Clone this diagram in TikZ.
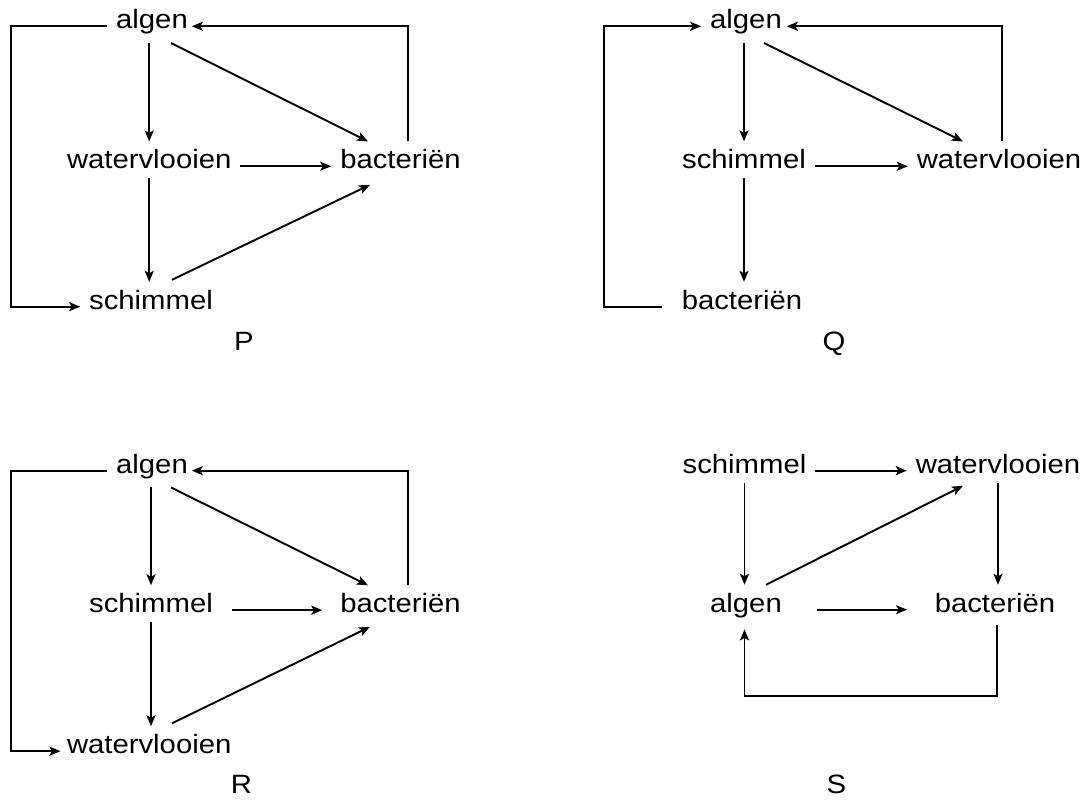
\documentclass[tikz,border=0pt]{standalone}
\usepackage{fontspec}
\setmainfont{Liberation Sans}[FakeStretch=1.105]
\usetikzlibrary{arrows.meta}
\newcommand\lblfont{\fontsize{26.5pt}{31pt}\selectfont}
\tikzset{
  lbl/.style={font=\lblfont, inner sep=0pt, text height=19pt, text depth=1pt,
    outer xsep=9pt, outer ysep=8.5pt, anchor=base},
  desc/.style={text depth=5.6pt},
  ttl/.style={font=\lblfont, inner sep=0pt, anchor=base},
  arr/.style={line width=1.9pt, -{Stealth[length=11pt,width=9pt,inset=2.5pt]}},
  ln/.style={line width=1.9pt}
}
\begin{document}
\begin{tikzpicture}[x=1pt,y=-1pt]
\useasboundingbox (0,0) rectangle (1089,801);
% ---------- P ----------
\node[lbl,desc] (Pa) at (152,28.9) {algen};
\node[lbl] (Pw) at (149.2,168.9) {watervlooien};
\node[lbl] (Pb) at (400.5,168.9) {bacteriën};
\node[lbl] (Ps) at (151,309.3) {schimmel};
\node[ttl] (P) at (244,350) {P};
\draw[arr] (Pw.north |- Pa.south) -- (Pw.north);
\draw[arr] ([xshift=19pt]Pa.south) -- ([xshift=-32.5pt]Pb.north);
\draw[arr] (Pw.mid east) -- (Pb.mid west);
\draw[arr] (Pw.south) -- (Pw.south |- Ps.north);
\draw[arr] ([xshift=21pt,yshift=2pt]Ps.north) -- ([xshift=-30.5pt,yshift=-6.4pt]Pb.south);
\draw[arr] ([xshift=7.5pt]Pb.north) |- ([xshift=-5pt]Pa.mid east);
\draw[arr] (Pa.mid west) -| ([xshift=-69.1pt]Ps.mid west) -- (Ps.mid west);
% ---------- Q ----------
\node[lbl,desc] (Qa) at (746,28.9) {algen};
\node[lbl] (Qs) at (744,168.9) {schimmel};
\node[lbl] (Qw) at (999,168.9) {watervlooien};
\node[lbl] (Qb) at (742,309.3) {bacteriën};
\node[ttl] (Q) at (834,350) {Q};
\draw[arr] (Qs.north |- Qa.south) -- (Qs.north);
\draw[arr] ([xshift=18pt]Qa.south) -- ([xshift=-36pt]Qw.north);
\draw[arr] (Qs.mid east) -- (Qw.mid west);
\draw[arr] (Qs.south) -- (Qs.south |- Qb.north);
\draw[arr] ([xshift=-10.7pt]Qb.mid west) -| ([xshift=-97pt]Qa.mid west) -- (Qa.mid west);
\draw[arr] ([xshift=3pt]Qw.north) |- ([xshift=-4pt]Qa.mid east);
% ---------- R ----------
\node[lbl,desc] (Ra) at (152,473.3) {algen};
\node[lbl] (Rs) at (151,612.8) {schimmel};
\node[lbl] (Rb) at (400.5,612.8) {bacteriën};
\node[lbl] (Rw) at (149.2,753.8) {watervlooien};
\node[ttl] (R) at (241.5,793) {R};
\draw[arr] (Rs.north |- Ra.south) -- (Rs.north);
\draw[arr] ([xshift=19pt]Ra.south) -- ([xshift=-32.5pt]Rb.north);
\draw[arr] ([xshift=10pt]Rs.mid east) -- ([xshift=-9pt]Rb.mid west);
\draw[arr] (Rs.south) -- (Rs.south |- Rw.north);
\draw[arr] ([xshift=22.8pt,yshift=3pt]Rw.north) -- ([xshift=-30.5pt,yshift=-4.5pt]Rb.south);
\draw[arr] ([xshift=7.5pt]Rb.north) |- ([xshift=-5pt]Ra.mid east);
\draw[arr] (Ra.mid west) -| ([xshift=-46.9pt]Rw.mid west) -- ([xshift=2.5pt]Rw.mid west);
% ---------- S ----------
\node[lbl] (Ss) at (744.5,473.3) {schimmel};
\node[lbl] (Sw) at (998,473.3) {watervlooien};
\node[lbl,desc] (Sa) at (746,612.3) {algen};
\node[lbl] (Sb) at (995,612.3) {bacteriën};
\node[ttl] (S) at (836.5,793) {S};
\draw[arr] (Ss.mid east) -- (Sw.mid west);
\draw[arr] (Ss.south) -- (Ss.south |- Sa.north);
\draw[arr] ([xshift=20pt]Sa.north) -- ([xshift=-35pt,yshift=-3pt]Sw.south);
\draw[arr] (Sw.south) -- (Sw.south |- Sb.north);
\draw[arr] ([xshift=26pt]Sa.mid east) -- ([xshift=-18.7pt]Sb.mid west);
\draw[arr] ([xshift=2pt,yshift=-3.5pt]Sb.south) -- ++(0,71) -| ([xshift=-1.5pt,yshift=-3pt]Sa.south);
\end{tikzpicture}
\end{document}
